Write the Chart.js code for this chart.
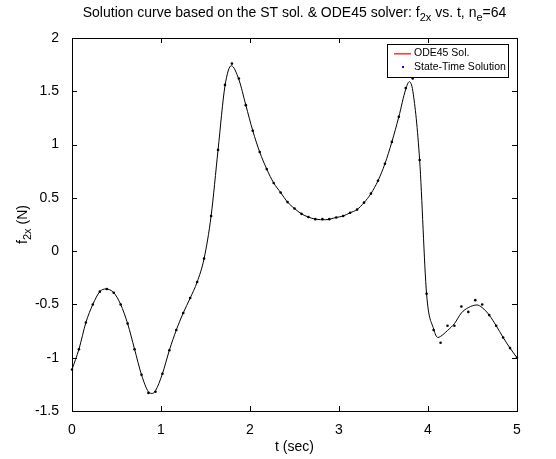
<!DOCTYPE html>
<html>
<head>
<meta charset="utf-8">
<script src="https://cdn.jsdelivr.net/npm/chart.js@4.4.0/dist/chart.umd.min.js"></script>
<style>
  html, body { margin: 0; padding: 0; background: #fff; }
  #wrap { width: 556px; height: 459px; }
</style>
</head>
<body>
<div id="wrap"><canvas id="f2xChart" width="556" height="459"></canvas></div>
<script>
// ODE45 solution curve
const odeT = [0, 0.078, 0.156, 0.234, 0.313, 0.38, 0.469, 0.547, 0.625, 0.703, 0.781, 0.859, 0.9, 0.938,
  1.016, 1.094, 1.172, 1.25, 1.328, 1.406, 1.484, 1.563, 1.641, 1.719, 1.79, 1.875, 1.953, 2.031, 2.109,
  2.188, 2.266, 2.344, 2.422, 2.5, 2.578, 2.656, 2.734, 2.85, 2.969, 3.047, 3.125, 3.203, 3.281, 3.359,
  3.438, 3.516, 3.594, 3.672, 3.75, 3.79, 3.83, 3.906, 3.984, 4.063, 4.11, 4.141, 4.219, 4.297, 4.375,
  4.453, 4.55, 4.609, 4.688, 4.766, 4.844, 4.922, 5];
const odeF = [-1.11, -0.92, -0.67, -0.50, -0.38, -0.355, -0.39, -0.50, -0.68, -0.92, -1.16, -1.32, -1.335, -1.31,
  -1.15, -0.93, -0.74, -0.58, -0.44, -0.29, -0.07, 0.33, 0.95, 1.55, 1.74, 1.61, 1.37, 1.13, 0.93,
  0.77, 0.64, 0.55, 0.46, 0.40, 0.35, 0.32, 0.30, 0.295, 0.316, 0.33, 0.36, 0.39, 0.455, 0.54,
  0.66, 0.82, 1.025, 1.26, 1.52, 1.59, 1.50, 0.855, -0.40, -0.73, -0.81, -0.80, -0.745, -0.68, -0.58,
  -0.53, -0.505, -0.53, -0.60, -0.70, -0.81, -0.91, -1.00];

// State-Time solution, n_e = 64 elements
const stT = [0, 0.078, 0.156, 0.234, 0.313, 0.391, 0.469, 0.547, 0.625, 0.703, 0.781, 0.859, 0.938,
  1.016, 1.094, 1.172, 1.25, 1.328, 1.406, 1.484, 1.563, 1.641, 1.719, 1.797, 1.875, 1.953, 2.031,
  2.109, 2.188, 2.266, 2.344, 2.422, 2.5, 2.578, 2.656, 2.734, 2.813, 2.891, 2.969, 3.047, 3.125,
  3.203, 3.281, 3.359, 3.438, 3.516, 3.594, 3.672, 3.75, 3.828, 3.906, 3.984, 4.063, 4.141, 4.219,
  4.297, 4.375, 4.453, 4.531, 4.609, 4.688, 4.766, 4.844, 4.922, 5];
const stF = [-1.11, -0.92, -0.67, -0.50, -0.38, -0.355, -0.39, -0.50, -0.68, -0.92, -1.16, -1.33, -1.32,
  -1.15, -0.93, -0.74, -0.58, -0.44, -0.29, -0.07, 0.33, 0.95, 1.56, 1.76, 1.62, 1.37, 1.13,
  0.93, 0.77, 0.64, 0.55, 0.46, 0.40, 0.35, 0.32, 0.30, 0.30, 0.30, 0.316, 0.33, 0.36,
  0.39, 0.455, 0.54, 0.66, 0.82, 1.025, 1.26, 1.53, 1.62, 0.855, -0.40, -0.74, -0.86, -0.70,
  -0.70, -0.52, -0.57, -0.46, -0.50, -0.60, -0.70, -0.81, -0.91, -1.00];

const xTicks = [0, 1, 2, 3, 4, 5];
const yTicks = [-1.5, -1, -0.5, 0, 0.5, 1, 1.5, 2];

const FONT = '"Liberation Sans", Arial, Helvetica, sans-serif';

// text with subscript parts, e.g. [["f",0],["2x",1],[" (N)",0]]
function drawParts(ctx, parts, x, y, size, align) {
  const sub = Math.round(size * 0.75);
  let w = 0;
  parts.forEach(p => {
    ctx.font = (p[1] ? sub : size) + "px " + FONT;
    w += ctx.measureText(p[0]).width;
  });
  let cx = align === "center" ? x - w / 2 : x;
  ctx.textAlign = "left";
  ctx.textBaseline = "alphabetic";
  parts.forEach(p => {
    ctx.font = (p[1] ? sub : size) + "px " + FONT;
    ctx.fillText(p[0], cx, y + (p[1] ? 4 : 0));
    cx += ctx.measureText(p[0]).width;
  });
}

const boxPlugin = {
  id: "boxPlugin",
  afterDraw(chart) {
    const ctx = chart.ctx;
    const a = chart.chartArea;
    const xs = chart.scales.x, ys = chart.scales.y;
    ctx.save();
    ctx.strokeStyle = "#000";
    ctx.lineWidth = 1;
    ctx.strokeRect(a.left + 0.5, a.top + 0.5, a.right - a.left, a.bottom - a.top);
    ctx.beginPath();
    xTicks.forEach(v => {
      const px = Math.round(xs.getPixelForValue(v)) + 0.5;
      ctx.moveTo(px, a.bottom); ctx.lineTo(px, a.bottom - 5);
      ctx.moveTo(px, a.top); ctx.lineTo(px, a.top + 5);
    });
    yTicks.forEach(v => {
      const py = Math.round(ys.getPixelForValue(v)) + 0.5;
      ctx.moveTo(a.left, py); ctx.lineTo(a.left + 5, py);
      ctx.moveTo(a.right, py); ctx.lineTo(a.right - 5, py);
    });
    ctx.stroke();

    // title
    ctx.fillStyle = "#000";
    drawParts(ctx, [["Solution curve based on the ST sol. & ODE45 solver: f", 0], ["2x", 1],
      [" vs. t, n", 0], ["e", 1], ["=64", 0]], (a.left + a.right) / 2, 17, 14, "center");

    // y label
    ctx.save();
    ctx.translate(27, (a.top + a.bottom) / 2);
    ctx.rotate(-Math.PI / 2);
    drawParts(ctx, [["f", 0], ["2x", 1], [" (N)", 0]], 0, 0, 14, "center");
    ctx.restore();

    // legend
    const lx = 387, ly = 44, lw = 121, lh = 33;
    ctx.fillStyle = "#fff";
    ctx.fillRect(lx, ly, lw, lh);
    ctx.strokeStyle = "#000";
    ctx.strokeRect(lx + 0.5, ly + 0.5, lw, lh);
    ctx.font = "10.5px " + FONT;
    ctx.textBaseline = "middle";
    ctx.textAlign = "left";
    const rows = chart.data.datasets;
    ctx.fillStyle = "#ff4040";
    ctx.fillRect(394, ly + 9, 17, 1.6);
    ctx.fillStyle = "#0000ff";
    ctx.fillRect(402, ly + 22, 2, 2);
    ctx.fillStyle = "#000";
    ctx.fillText(rows[0].label, 414, ly + 9.5);
    ctx.fillText(rows[1].label, 414, ly + 23);
    ctx.restore();
  }
};

const ctx = document.getElementById("f2xChart").getContext("2d");
new Chart(ctx, {
  type: "line",
  data: {
    datasets: [
      {
        label: "ODE45 Sol.",
        data: odeT.map((t, i) => ({ x: t, y: odeF[i] })),
        borderColor: "#000",
        borderWidth: 1,
        pointRadius: 0,
        cubicInterpolationMode: "monotone",
        fill: false,
        order: 2
      },
      {
        label: "State-Time Solution",
        data: stT.map((t, i) => ({ x: t, y: stF[i] })),
        showLine: false,
        pointRadius: 1.3,
        pointBackgroundColor: "#000",
        pointBorderWidth: 0,
        clip: false,
        order: 1
      }
    ]
  },
  options: {
    responsive: false,
    animation: false,
    events: [],
    layout: { padding: { top: 38, right: 39, left: 0, bottom: 0 } },
    plugins: { legend: { display: false }, title: { display: false }, tooltip: { enabled: false } },
    scales: {
      x: {
        type: "linear",
        min: 0, max: 5,
        grid: { display: false },
        border: { display: false },
        afterBuildTicks: s => { s.ticks = xTicks.map(v => ({ value: v })); },
        afterFit: s => { s.height = 48; },
        ticks: { color: "#000", font: { family: FONT, size: 14 }, padding: 3, maxRotation: 0,
          callback: v => String(v) },
        title: { display: true, text: "t (sec)", color: "#000", font: { family: FONT, size: 14 },
          padding: { top: 0, bottom: 3 } }
      },
      y: {
        type: "linear",
        min: -1.5, max: 2,
        grid: { display: false },
        border: { display: false },
        afterBuildTicks: s => { s.ticks = yTicks.map(v => ({ value: v })); },
        afterFit: s => { s.width = 72; },
        ticks: { color: "#000", font: { family: FONT, size: 14 }, padding: 5,
          callback: v => String(v) }
      }
    }
  },
  plugins: [boxPlugin]
});
</script>
</body>
</html>
